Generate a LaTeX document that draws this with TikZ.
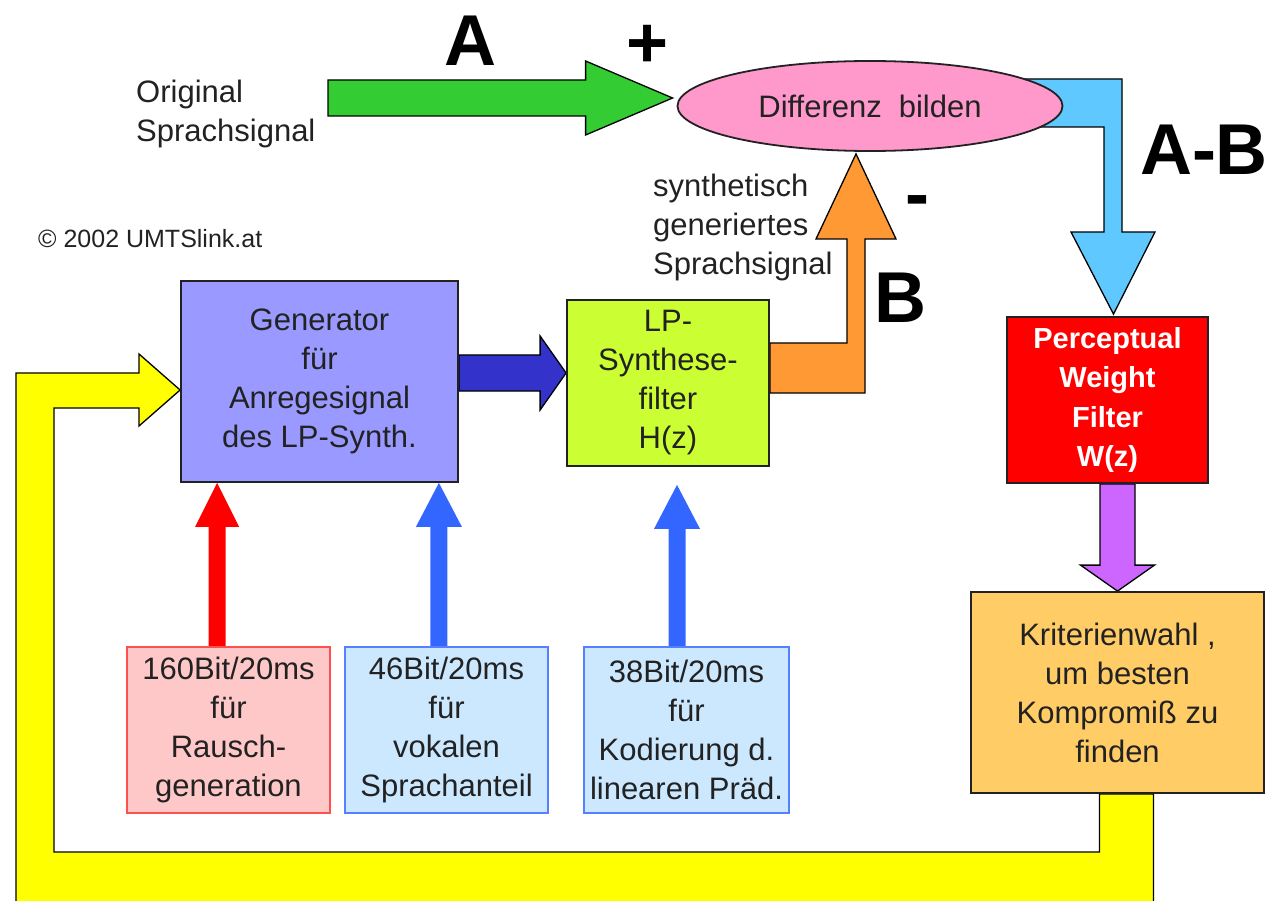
\documentclass[tikz,border=0pt]{standalone}
\usepackage{fontspec}
\setmainfont{Liberation Sans}
\usetikzlibrary{calc,shapes.geometric}

\definecolor{cGreen}{HTML}{33CC33}
\definecolor{cPink}{HTML}{FF99CC}
\definecolor{cSky}{HTML}{5EC8FF}
\definecolor{cOrange}{HTML}{FF9933}
\definecolor{cLavender}{HTML}{9999FF}
\definecolor{cNavy}{HTML}{3333CC}
\definecolor{cLime}{HTML}{CCFF33}
\definecolor{cRed}{HTML}{FF0000}
\definecolor{cViolet}{HTML}{CC66FF}
\definecolor{cApricot}{HTML}{FFCC66}
\definecolor{cYellow}{HTML}{FFFF00}
\definecolor{cRose}{HTML}{FFC8C8}
\definecolor{cRoseLine}{HTML}{FF5050}
\definecolor{cIce}{HTML}{CCE8FF}
\definecolor{cIceLine}{HTML}{5580FF}
\definecolor{cBlue}{HTML}{3366FF}
\definecolor{cInk}{HTML}{222222}

\pgfdeclarelayer{bg}
\pgfsetlayers{bg,main}

% straight block arrows: style, tail, tip, shaft half-width, head half-width, head length
\newcommand\blkarrowright[6]{%
  \path[#1] let \p1=(#2), \p2=(#3) in
    (\x1,\y2+#4pt) -- (\x2-#6pt,\y2+#4pt) -- (\x2-#6pt,\y2+#5pt) -- (\p2)
    -- (\x2-#6pt,\y2-#5pt) -- (\x2-#6pt,\y2-#4pt) -- (\x1,\y2-#4pt) -- cycle;}
\newcommand\blkarrowup[6]{%
  \path[#1] let \p1=(#2), \p2=(#3) in
    (\x2-#4pt,\y1) -- (\x2-#4pt,\y2-#6pt) -- (\x2-#5pt,\y2-#6pt) -- (\p2)
    -- (\x2+#5pt,\y2-#6pt) -- (\x2+#4pt,\y2-#6pt) -- (\x2+#4pt,\y1) -- cycle;}
\newcommand\blkarrowdown[6]{%
  \path[#1] let \p1=(#2), \p2=(#3) in
    (\x2-#4pt,\y1) -- (\x2-#4pt,\y2+#6pt) -- (\x2-#5pt,\y2+#6pt) -- (\p2)
    -- (\x2+#5pt,\y2+#6pt) -- (\x2+#4pt,\y2+#6pt) -- (\x2+#4pt,\y1) -- cycle;}

\tikzset{
  bodyfont/.style={font=\fontsize{31}{39}\selectfont},
  box/.style={draw=cInk, line width=1.8pt, align=center, inner sep=0pt,
    text=cInk, bodyfont},
  bitbox/.style={line width=1.8pt, align=center, inner sep=0pt, text=cInk,
    bodyfont, minimum width=203pt, minimum height=166pt},
  outlined/.style={fill=#1, draw=black, line width=1.3pt, line join=miter},
  plain/.style={fill=#1},
  label/.style={text=cInk, align=left, inner sep=0pt, bodyfont},
  bigsign/.style={font=\bfseries\fontsize{72}{72}\selectfont, inner sep=0pt, text=black}
}

\begin{document}
\begin{tikzpicture}[x=1pt, y=-1pt]
\useasboundingbox (0,0) rectangle (1272,901);
\begin{pgfonlayer}{bg}
  \fill[white] (0,0) rectangle (1272,901);
\end{pgfonlayer}

% ---- blocks ----
\node[box, ellipse, fill=cPink, minimum width=385pt, minimum height=90pt]
  (diff) at (870,106) {Differenz\hspace{0.55em}bilden};
\node[box, fill=cLavender, minimum width=277pt, minimum height=201pt]
  (gen) at (319.5,381.5) {Generator\\für\\Anregesignal\\des LP-Synth.};
\node[box, fill=cLime, minimum width=202pt, minimum height=166pt]
  (lp) at (668,383) {LP-\\Synthese-\\filter\\H(z)};
\node[box, fill=cRed, minimum width=201pt, minimum height=166pt, text=white,
  font=\bfseries\fontsize{29}{39.5}\selectfont]
  (pwf) at (1107.5,400) {Perceptual\\Weight\\Filter\\W(z)};
\node[box, fill=cApricot, minimum width=293pt, minimum height=201pt]
  (krit) at (1117.5,692.5) {Kriterienwahl ,\\um besten\\Kompromiß zu\\finden};

\node[bitbox, fill=cRose, draw=cRoseLine] (b1) at (228.5,730)
  {160Bit/20ms\\für\\Rausch-\\generation};
\node[bitbox, fill=cIce, draw=cIceLine] (b2) at (446.5,730)
  {46Bit/20ms\\für\\vokalen\\Sprachanteil};
\node[bitbox, fill=cIce, draw=cIceLine, minimum width=205pt] (b3) at (686.5,730)
  {38Bit/20ms\\für\\Kodierung d.\\linearen Präd.};

% ---- texts ----
\node[label, anchor=west] (orig) at (136,114) {Original\\Sprachsignal};
\node[label, anchor=west] (synth) at (653,227) {synthetisch\\generiertes\\Sprachsignal};
\node[label, anchor=west, font=\fontsize{25}{30}\selectfont] (copy) at (38,239)
  {© 2002 UMTSlink.at};
\node[bigsign] (sA) at (470,41) {A};
\node[bigsign] (sPlus) at (648,46) {+};
\node[bigsign] (sMinus) at (917,207) {-};
\node[bigsign] (sB) at (900,298) {B};
\node[bigsign] (sAB) at (1204,150) {A-B};

% ---- connector end points ----
\coordinate (gTail) at ($(orig.west)+(192,-16)$);
\coordinate (gTip)  at ($(diff.west)+(-4,-8)$);
\coordinate (nTail) at ($(gen.east)+(0,-10)$);
\coordinate (nTip)  at ($(lp.west)+(0,-10)$);
\coordinate (oTip)  at ($(diff.south)+(-14,2)$);
\coordinate (bS)    at ($(diff.east)+(-60,0)$);
\coordinate (bTip)  at ($(pwf.north)+(6,-2)$);
\coordinate (vTail) at ($(pwf.south)+(10,0)$);
\coordinate (yR)    at ($(krit.south)+(36,0)$);
\coordinate (yL)    at ($(krit.south)+(-18,0)$);
\coordinate (yTip)  at ($(gen.west)+(0,8.5)$);
\coordinate (rTip)  at ($(gen.south west)+(37,0)$);
\coordinate (uTip)  at ($(gen.south east)+(-20,0)$);
\coordinate (wTip)  at ($(lp.south)+(9,18)$);

% ---- connectors (behind the blocks) ----
\begin{pgfonlayer}{bg}
  % original signal into the difference
  \blkarrowright{outlined=cGreen}{gTail}{gTip}{18}{37}{87}
  % excitation into the synthesis filter
  \blkarrowright{outlined=cNavy}{nTail}{nTip}{18}{37}{26}
  % synthesised signal up to the difference
  \path[outlined=cOrange] (lp.east |- 0,343) -- (847,343) -- (847,239) -- (816,239)
    -- (oTip) -- (896,239) -- (865,239) -- (865,393) -- (lp.east |- 0,393) -- cycle;
  % difference down to the weighting filter
  \path[outlined=cSky] (bS |- 0,79) -- (1122,79) -- (1122,232) -- (1155,232)
    -- (bTip) -- (1071,232) -- (1104,232) -- (1104,127) -- (bS |- 0,127) -- cycle;
  % weighting filter to the criterion
  \blkarrowdown{outlined=cViolet}{vTail}{krit.north}{17.5}{37}{26}
  % feedback loop back to the generator
  \path[outlined=cYellow] (yR) -- (yR |- 0,920) -- (16,920) -- (16,373) -- (139,373)
    -- (139,354) -- (yTip) -- (139,426) -- (139,408) -- (54,408) -- (54,852)
    -- (yL |- 0,852) -- (yL) -- cycle;
  % parameter streams
  \blkarrowup{plain=cRed}{rTip |- b1.north}{rTip}{8.5}{22}{44}
  \blkarrowup{plain=cBlue}{uTip |- b2.north}{uTip}{8.5}{23}{44}
  \blkarrowup{plain=cBlue}{wTip |- b3.north}{wTip}{8.5}{23}{44}
\end{pgfonlayer}
\end{tikzpicture}
\end{document}
